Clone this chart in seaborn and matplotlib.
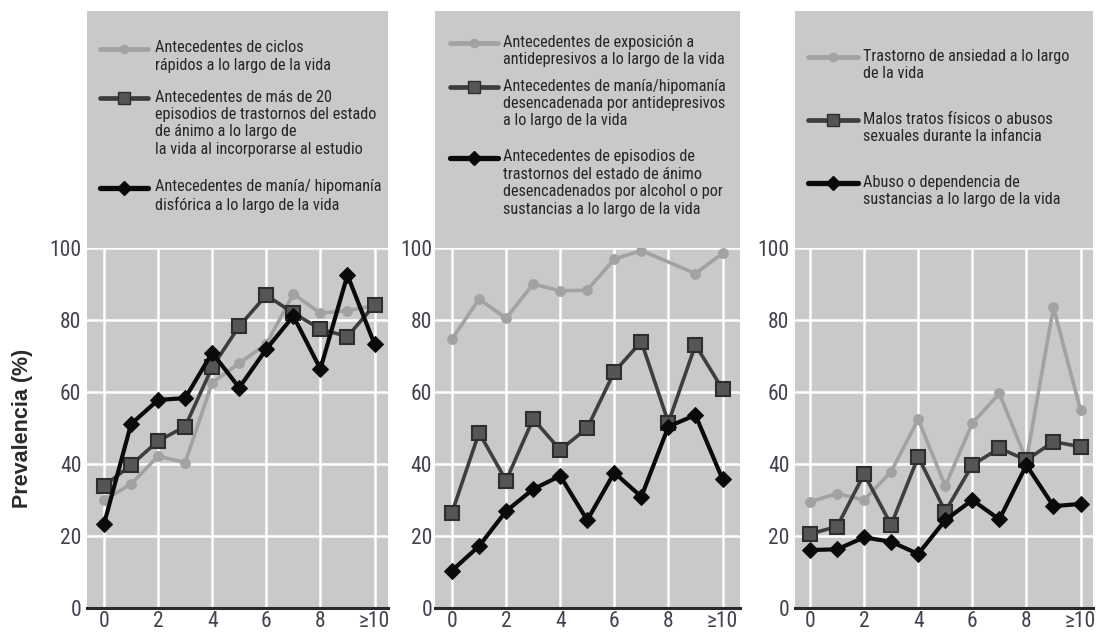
import numpy as np
import pandas as pd
import matplotlib
matplotlib.use("Agg")
import matplotlib.pyplot as plt
from matplotlib import font_manager
from matplotlib.lines import Line2D
import seaborn as sns

# ---- data -------------------------------------------------------------
x_vals = list(range(11))
x_ticks = [0, 2, 4, 6, 8, 10]
x_tick_labels = ["0", "2", "4", "6", "8", "\u226510"]
y_ticks = [0, 20, 40, 60, 80, 100]

p1_labels = [
    "Antecedentes de ciclos\nrápidos a lo largo de la vida",
    "Antecedentes de más de 20\nepisodios de trastornos del estado\nde ánimo a lo largo de\nla vida al incorporarse al estudio",
    "Antecedentes de manía/ hipomanía\ndisfórica a lo largo de la vida",
]
p1_ciclos = [30.0, 34.4, 42.2, 40.4, 62.6, 68.0, 73.3, 87.2, 81.9, 82.6, 84.0]
p1_episodios = [33.9, 39.7, 46.4, 50.4, 66.9, 78.3, 86.9, 81.9, 77.5, 75.4, 84.2]
p1_disforica = [23.3, 51.1, 57.8, 58.3, 70.9, 61.2, 71.9, 81.1, 66.4, 92.5, 73.3]

p2_labels = [
    "Antecedentes de exposición a\nantidepresivos a lo largo de la vida",
    "Antecedentes de manía/hipomanía\ndesencadenada por antidepresivos\na lo largo de la vida",
    "Antecedentes de episodios de\ntrastornos del estado de ánimo\ndesencadenados por alcohol o por\nsustancias a lo largo de la vida",
]
p2_exposicion = [74.7, 85.8, 80.5, 90.0, 88.1, 88.3, 96.9, 99.3, np.nan, 92.9, 98.5]
p2_mania_ad = [26.5, 48.7, 35.4, 52.5, 43.9, 50.0, 65.6, 74.0, 51.5, 73.1, 60.8]
p2_alcohol = [10.4, 17.2, 26.9, 33.0, 36.7, 24.4, 37.6, 30.9, 50.4, 53.6, 35.8]

p3_labels = [
    "Trastorno de ansiedad a lo largo\nde la vida",
    "Malos tratos físicos o abusos\nsexuales durante la infancia",
    "Abuso o dependencia de\nsustancias a lo largo de la vida",
]
p3_ansiedad = [29.5, 31.8, 30.0, 37.9, 52.4, 33.9, 51.3, 59.6, 41.1, 83.5, 55.0]
p3_abusos = [20.6, 22.6, 37.2, 23.1, 42.0, 26.8, 39.7, 44.4, 41.1, 46.2, 44.8]
p3_sustancias = [16.1, 16.3, 19.6, 18.4, 15.0, 24.4, 30.0, 24.6, 39.7, 28.3, 28.9]

y_label = "Prevalencia (%)"

# ---- fonts: prefer a narrow face for the dense legend text -------------
sns.set_style("white")
installed = {f.name for f in font_manager.fontManager.ttflist}
narrow_candidates = ["Roboto Condensed", "Liberation Sans Narrow", "Open Sans Condensed",
                     "Noto Sans Condensed", "DejaVu Sans Condensed", "Arial Narrow"]
narrow = next((n for n in narrow_candidates if n in installed), None)
if narrow is None:
    narrow = next((n for n in sorted(installed)
                   if ("Condensed" in n or "Narrow" in n) and "Mono" not in n
                   and "Serif" not in n), None)
stretch = "normal"
if narrow is None:
    cond = [f for f in font_manager.fontManager.ttflist
            if f.name == "DejaVu Sans" and str(f.stretch) in ("condensed", "semi-condensed")]
    narrow = "DejaVu Sans"
    stretch = "condensed" if cond else "normal"
NARROW_OK = not (narrow == "DejaVu Sans" and stretch == "normal")

plt.rcParams["font.family"] = [narrow, "DejaVu Sans"]
plt.rcParams["font.stretch"] = stretch

BG = "#c9c9c9"
TXT = "#262626"
TICK = "#453f4e"
LEG_SIZE = 11.7 if NARROW_OK else 9.6
TICK_SIZE = 15.5 if NARROW_OK else 14

series_style = [
    dict(color="#a2a2a2", marker="o", markersize=7, linewidth=2.6,
         markerfacecolor="#a2a2a2", markeredgecolor="#a2a2a2"),
    dict(color="#3e3e3e", marker="s", markersize=9.5, linewidth=2.6,
         markerfacecolor="#555555", markeredgecolor="#2e2e2e", markeredgewidth=1.5),
    dict(color="#0a0a0a", marker="D", markersize=8.5, linewidth=3.0,
         markerfacecolor="#0a0a0a", markeredgecolor="#0a0a0a"),
]

W, H = 1103, 635
fig = plt.figure(figsize=(W / 100, H / 100), dpi=100)

# panel geometry in pixels: (left, right), plus legend line centres
panels = [
    dict(xpx=(87, 388), x0px=104, data=[p1_ciclos, p1_episodios, p1_disforica],
         labels=p1_labels, key_y=[49, 98, 188], key_x=(100, 148), text_x=155, pad=4),
    dict(xpx=(435, 740), x0px=452, data=[p2_exposicion, p2_mania_ad, p2_alcohol],
         labels=p2_labels, key_y=[43, 87, 158], key_x=(450, 498), text_x=503, pad=2),
    dict(xpx=(795, 1093), x0px=810, data=[p3_ansiedad, p3_abusos, p3_sustancias],
         labels=p3_labels, key_y=[57, 120, 183], key_x=(808, 858), text_x=863, pad=4),
]
TOP_PX, MID_PX, BOT_PX = 11, 248, 608
UNIT_PX = 27.05

for i, pn in enumerate(panels):
    l, r = pn["xpx"]
    ax = fig.add_axes([l / W, (H - BOT_PX) / H, (r - l) / W, (BOT_PX - MID_PX) / H])
    ax.set_facecolor(BG)

    for vals, st in zip(pn["data"], series_style):
        df = pd.DataFrame({"x": x_vals, "y": vals}).dropna()
        sns.lineplot(data=df, x="x", y="y", ax=ax, legend=False, **st)

    ax.set_xlim((l - pn["x0px"]) / UNIT_PX, (r - pn["x0px"]) / UNIT_PX)
    ax.set_ylim(0, 100)
    ax.set_xticks(x_ticks)
    ax.set_xticklabels(x_tick_labels)
    ax.set_yticks(y_ticks)
    ax.grid(True, color="white", linewidth=1.8, zorder=0)
    ax.set_axisbelow(True)
    for s in ("top", "right", "left"):
        ax.spines[s].set_visible(False)
    ax.spines["bottom"].set_color("#2a2a2a")
    ax.spines["bottom"].set_linewidth(2.2)
    ax.tick_params(axis="both", length=0, labelsize=TICK_SIZE, colors=TICK)
    ax.tick_params(axis="x", pad=2.5)
    ax.tick_params(axis="y", pad=pn["pad"])
    ax.set_xlabel("")
    if i == 0:
        ax.set_ylabel(y_label, fontsize=15.5, fontweight="bold", color="#2a2a2a",
                      family=["Liberation Sans", "DejaVu Sans"], stretch="normal")
        ax.yaxis.set_label_coords((33 - l) / (r - l), 0.5)
    else:
        ax.set_ylabel("")

    # legend box above the plot area, in pixel units
    lax = fig.add_axes([l / W, (H - MID_PX) / H, (r - l) / W, (MID_PX - TOP_PX) / H])
    lax.set_facecolor(BG)
    lax.set_xlim(l, r)
    lax.set_ylim(MID_PX, TOP_PX)
    lax.set_xticks([])
    lax.set_yticks([])
    for s in lax.spines.values():
        s.set_visible(False)
    kx0, kx1 = pn["key_x"]
    for ky, lab, st in zip(pn["key_y"], pn["labels"], series_style):
        lax.add_line(Line2D([kx0, kx1], [ky, ky], color=st["color"],
                            linewidth=st["linewidth"] + 0.8))
        lax.add_line(Line2D([(kx0 + kx1) / 2], [ky], marker=st["marker"],
                            markersize=st["markersize"] * 0.85,
                            markerfacecolor=st["markerfacecolor"],
                            markeredgecolor=st["markeredgecolor"], linestyle="none"))
        lax.text(pn["text_x"], ky - 8.5, lab, ha="left", va="top", fontsize=LEG_SIZE,
                 color=TXT, linespacing=1.3 if not NARROW_OK else 1.2)

fig.savefig("out.png", dpi=100, facecolor="white")
